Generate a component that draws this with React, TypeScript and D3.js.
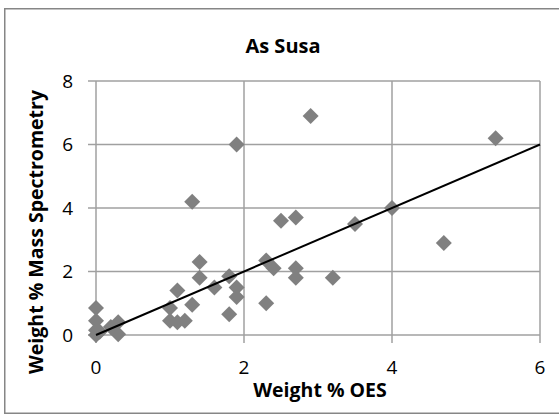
import React from "react";
import * as d3 from "d3";

const title = "As Susa";
const xTitle = "Weight % OES";
const yTitle = "Weight % Mass Spectrometry";
const xTicks = [0, 2, 4, 6];
const yTicks = [0, 2, 4, 6, 8];

const oesValues = [
  0, 0, 0, 0, 0.05, 0.2, 0.3, 0.3,
  1.0, 1.0, 1.1, 1.1, 1.2, 1.3, 1.3, 1.4, 1.4, 1.6, 1.8, 1.8, 1.9, 1.9, 1.9,
  2.3, 2.3, 2.4, 2.5, 2.7, 2.7, 2.7, 2.9, 3.2, 3.5, 4.0, 4.7, 5.4,
];
const msValues = [
  0.85, 0.45, 0.15, 0, 0.1, 0.25, 0.4, 0.02,
  0.85, 0.45, 0.4, 1.4, 0.45, 0.95, 4.2, 2.3, 1.8, 1.5, 1.85, 0.65, 1.5, 1.2, 6.0,
  2.35, 1.0, 2.1, 3.6, 3.7, 2.1, 1.8, 6.9, 1.8, 3.5, 4.0, 2.9, 6.2,
];
const trendX = [0, 6];
const trendY = [0, 6];

const W = 559;
const H = 415;
const FONT = "'Open Sans', 'Liberation Sans', sans-serif";
const GRID = "#a0a0a0";

export default function App() {
  const x = d3.scaleLinear().domain([0, 6]).range([96, 540]);
  const y = d3.scaleLinear().domain([0, 8]).range([335, 81]);
  const pts = oesValues.map((v, i) => [v, msValues[i]] as [number, number]);
  const trend = d3
    .line<number>()
    .x((d) => x(trendX[d]))
    .y((d) => y(trendY[d]));
  const r = 8;
  return (
    <svg
      width={W}
      height={H}
      style={{ position: "absolute", left: 0, top: 0 }}
    >
      <rect x={0} y={0} width={W} height={H} fill="#fff" />
      <rect
        x={4.75}
        y={8.75}
        width={560}
        height={404.5}
        fill="#fff"
        stroke="#868686"
        strokeWidth={1.5}
      />
      {yTicks
        .filter((t) => t > 0)
        .map((t) => (
          <line
            key={"gy" + t}
            x1={x(0)}
            x2={x(6)}
            y1={y(t)}
            y2={y(t)}
            stroke={GRID}
            strokeWidth={1.5}
          />
        ))}
      {xTicks
        .filter((t) => t > 0)
        .map((t) => (
          <line
            key={"gx" + t}
            x1={x(t)}
            x2={x(t)}
            y1={y(0)}
            y2={y(8)}
            stroke={GRID}
            strokeWidth={1.5}
          />
        ))}
      <line x1={x(0)} x2={x(0)} y1={y(0)} y2={y(8)} stroke={GRID} strokeWidth={1.5} />
      <line x1={x(0)} x2={x(6)} y1={y(0)} y2={y(0)} stroke={GRID} strokeWidth={1.5} />
      {yTicks.map((t) => (
        <line
          key={"ty" + t}
          x1={x(0) - 8}
          x2={x(0)}
          y1={y(t)}
          y2={y(t)}
          stroke={GRID}
          strokeWidth={1.5}
        />
      ))}
      {xTicks.map((t) => (
        <line
          key={"tx" + t}
          x1={x(t)}
          x2={x(t)}
          y1={y(0)}
          y2={y(0) + 8}
          stroke={GRID}
          strokeWidth={1.5}
        />
      ))}
      {pts.map(([a, b], i) => (
        <path
          key={"p" + i}
          d={`M${x(a)},${y(b) - r}L${x(a) + r},${y(b)}L${x(a)},${y(b) + r}L${x(a) - r},${y(b)}Z`}
          fill="#808080"
        />
      ))}
      <path
        d={trend([0, 1]) || ""}
        stroke="#000"
        strokeWidth={2}
        fill="none"
      />
      {yTicks.map((t) => (
        <text
          key={"ly" + t}
          x={73}
          y={y(t)}
          dy="0.36em"
          textAnchor="end"
          fontFamily={FONT}
          fontSize={19}
          fill="#000"
        >
          {t}
        </text>
      ))}
      {xTicks.map((t) => (
        <text
          key={"lx" + t}
          x={x(t)}
          y={367}
          dy="0.36em"
          textAnchor="middle"
          fontFamily={FONT}
          fontSize={19}
          fill="#000"
        >
          {t}
        </text>
      ))}
      <text
        x={283}
        y={53}
        textAnchor="middle"
        fontFamily={FONT}
        fontWeight="bold"
        fontSize={20}
        fill="#000"
      >
        {title}
      </text>
      <text
        x={320}
        y={397}
        textAnchor="middle"
        fontFamily={FONT}
        fontWeight="bold"
        fontSize={19.5}
        fill="#000"
      >
        {xTitle}
      </text>
      <text
        transform={`translate(43,232) rotate(-90)`}
        textAnchor="middle"
        fontFamily={FONT}
        fontWeight="bold"
        fontSize={19.5}
        fill="#000"
      >
        {yTitle}
      </text>
    </svg>
  );
}
